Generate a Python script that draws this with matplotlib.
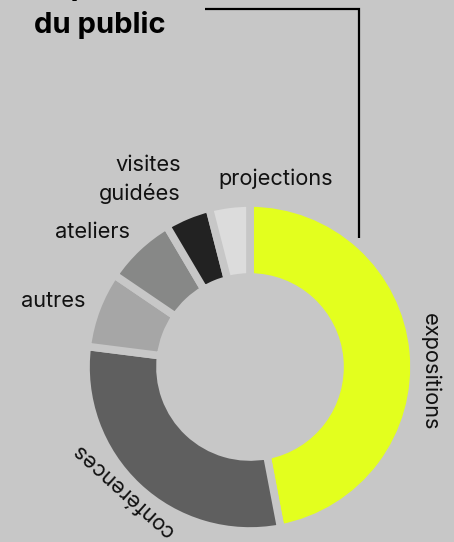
import matplotlib.pyplot as plt

# Répartition du public (parts en %)
categories = ["expositions", "conférences", "autres", "ateliers", "visites guidées", "projections"]
values = [47, 30, 7.5, 7, 4.5, 4]
colors = ["#e3ff1e", "#5f5f5f", "#a6a6a6", "#878887", "#222222", "#dcdcdc"]

BG = "#c7c7c7"
FONT = "Inter"

fig = plt.figure(figsize=(4.54, 5.42), dpi=100, facecolor=BG)
ax = fig.add_axes([0, 0, 1, 1])
ax.set_facecolor(BG)

# donut
ax.pie(values, colors=colors, startangle=90, counterclock=False,
       center=(250, 175), radius=164, frame=True,
       wedgeprops=dict(width=74, edgecolor=BG, linewidth=5.5))
ax.set_xlim(0, 454)
ax.set_ylim(0, 542)
ax.set_aspect("equal")
ax.axis("off")

# titre (première ligne coupée par le bord)
ax.text(34, 547, "Répartition", fontsize=21, fontweight="bold", family=FONT, va="baseline")
ax.text(34, 509, "du public", fontsize=21, fontweight="bold", family=FONT, va="baseline")

# trait de liaison
ax.plot([205, 359, 359], [533, 533, 304], color="black", lw=1.6,
        solid_joinstyle="miter", solid_capstyle="butt")

# étiquettes
lab = dict(fontsize=15.7, family=FONT, color="#111111")
ax.text(276, 357, "projections", ha="center", va="baseline", **lab)
ax.text(181, 371, "visites", ha="right", va="baseline", **lab)
ax.text(181, 342, "guidées", ha="right", va="baseline", **lab)
ax.text(92, 304, "ateliers", ha="center", va="baseline", **lab)
ax.text(53, 235, "autres", ha="center", va="baseline", **lab)
ax.text(430, 170, "expositions", ha="center", va="center", rotation=-90, **lab)
ax.text(123, 52, "conférences", ha="center", va="center", rotation=138,
        rotation_mode="anchor", **lab)

fig.savefig("out.png", dpi=100, facecolor=BG)
